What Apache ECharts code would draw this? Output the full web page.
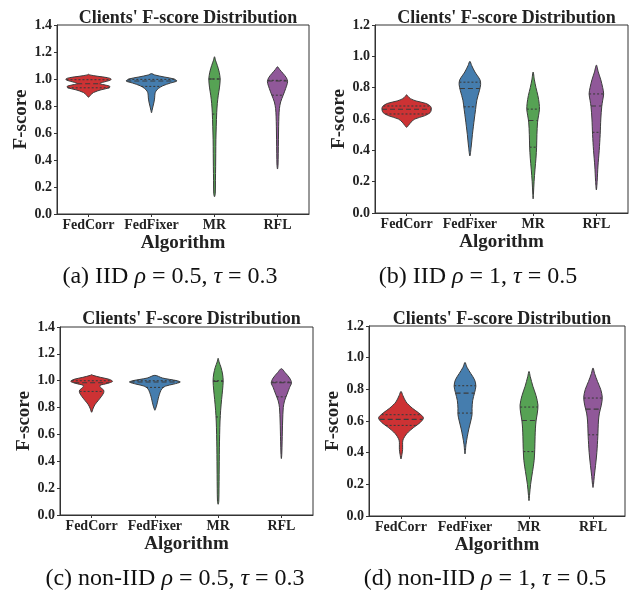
<!DOCTYPE html>
<html>
<head>
<meta charset="utf-8">
<script src="https://cdn.jsdelivr.net/npm/echarts@6/dist/echarts.min.js"></script>
<style>
html,body{margin:0;padding:0;background:#fff;}
#chart{width:636px;height:593px;}
</style>
</head>
<body>
<div id="chart"></div>
<script>
// ---------------- data ----------------
const categories = ['FedCorr', 'FedFixer', 'MR', 'RFL'];
const panelTitle = "Clients' F-score Distribution";
const yMax = [1.4, 1.2, 1.4, 1.2];
const captions = [
  '(a) IID {i|ρ} = 0.5, {i|τ} = 0.3',
  '(b) IID {i|ρ} = 1, {i|τ} = 0.5',
  '(c) non-IID {i|ρ} = 0.5, {i|τ} = 0.3',
  '(d) non-IID {i|ρ} = 1, {i|τ} = 0.5'
];
const colors = ['#cd3234', '#457dae', '#56a254', '#905899'];

// Violin outlines: [F-score, half-width as fraction of the category band]
// (a) IID rho=0.5, tau=0.3
const a_FedCorr = [[0.865,0],[0.88,0.03],[0.90,0.08],[0.92,0.20],[0.935,0.33],[0.945,0.34],[0.955,0.27],[0.965,0.18],[0.975,0.22],[0.99,0.34],[1.0,0.36],[1.01,0.30],[1.02,0.15],[1.03,0.02],[1.035,0]];
const a_FedFixer = [[0.75,0],[0.77,0.01],[0.80,0.025],[0.83,0.04],[0.86,0.05],[0.89,0.055],[0.91,0.07],[0.93,0.11],[0.95,0.18],[0.97,0.30],[0.985,0.40],[1.0,0.36],[1.015,0.20],[1.03,0.05],[1.04,0]];
const a_MR = [[0.128,0],[0.15,0.012],[0.25,0.015],[0.35,0.018],[0.45,0.02],[0.55,0.022],[0.65,0.028],[0.75,0.035],[0.82,0.045],[0.88,0.06],[0.94,0.08],[1.0,0.09],[1.05,0.075],[1.10,0.045],[1.14,0.015],[1.165,0]];
const a_RFL = [[0.333,0],[0.36,0.008],[0.45,0.012],[0.55,0.015],[0.65,0.018],[0.72,0.022],[0.78,0.03],[0.83,0.05],[0.88,0.09],[0.93,0.13],[0.98,0.16],[1.01,0.14],[1.04,0.09],[1.07,0.035],[1.09,0]];
// (b) IID rho=1, tau=0.5
const b_FedCorr = [[0.547,0],[0.56,0.03],[0.58,0.07],[0.60,0.13],[0.62,0.28],[0.64,0.37],[0.66,0.39],[0.68,0.38],[0.70,0.30],[0.715,0.15],[0.73,0.06],[0.745,0.02],[0.755,0]];
const b_FedFixer = [[0.364,0],[0.42,0.02],[0.50,0.04],[0.60,0.07],[0.66,0.09],[0.72,0.11],[0.78,0.15],[0.82,0.17],[0.85,0.16],[0.90,0.08],[0.94,0.03],[0.968,0]];
const b_MR = [[0.09,0],[0.12,0.005],[0.20,0.015],[0.28,0.03],[0.35,0.045],[0.42,0.055],[0.50,0.06],[0.58,0.07],[0.62,0.085],[0.66,0.10],[0.70,0.095],[0.75,0.075],[0.80,0.045],[0.85,0.02],[0.90,0]];
const b_RFL = [[0.147,0],[0.20,0.012],[0.30,0.025],[0.40,0.045],[0.50,0.06],[0.60,0.07],[0.68,0.085],[0.72,0.10],[0.76,0.115],[0.80,0.10],[0.85,0.07],[0.90,0.03],[0.944,0]];
// (c) non-IID rho=0.5, tau=0.3
const c_FedCorr = [[0.765,0],[0.79,0.02],[0.82,0.05],[0.85,0.10],[0.88,0.15],[0.91,0.19],[0.93,0.19],[0.95,0.14],[0.965,0.13],[0.98,0.25],[0.995,0.33],[1.01,0.28],[1.025,0.14],[1.04,0.02],[1.045,0]];
const c_FedFixer = [[0.78,0],[0.79,0.01],[0.82,0.03],[0.85,0.045],[0.88,0.06],[0.91,0.08],[0.94,0.11],[0.96,0.17],[0.975,0.30],[0.99,0.40],[1.0,0.35],[1.02,0.12],[1.04,0]];
const c_MR = [[0.08,0],[0.10,0.01],[0.20,0.014],[0.30,0.016],[0.40,0.018],[0.50,0.02],[0.60,0.024],[0.70,0.03],[0.78,0.04],[0.86,0.055],[0.93,0.07],[1.0,0.08],[1.05,0.07],[1.10,0.045],[1.14,0.015],[1.167,0]];
const c_RFL = [[0.42,0],[0.45,0.006],[0.55,0.012],[0.70,0.02],[0.80,0.03],[0.85,0.05],[0.90,0.09],[0.95,0.13],[0.985,0.16],[1.02,0.13],[1.06,0.06],[1.09,0]];
// (d) non-IID rho=1, tau=0.5
const d_FedCorr = [[0.36,0],[0.39,0.015],[0.42,0.025],[0.45,0.025],[0.48,0.03],[0.52,0.09],[0.56,0.20],[0.59,0.30],[0.62,0.35],[0.65,0.28],[0.68,0.18],[0.72,0.08],[0.76,0.03],[0.787,0]];
const d_FedFixer = [[0.392,0],[0.45,0.015],[0.50,0.035],[0.55,0.06],[0.60,0.09],[0.64,0.11],[0.68,0.11],[0.73,0.12],[0.78,0.15],[0.82,0.17],[0.86,0.15],[0.90,0.09],[0.94,0.03],[0.97,0]];
const d_MR = [[0.097,0],[0.13,0.008],[0.20,0.025],[0.28,0.055],[0.35,0.08],[0.42,0.09],[0.50,0.095],[0.55,0.10],[0.60,0.11],[0.65,0.13],[0.70,0.14],[0.76,0.11],[0.82,0.06],[0.88,0.02],[0.913,0]];
const d_RFL = [[0.18,0],[0.20,0.008],[0.25,0.02],[0.32,0.04],[0.40,0.06],[0.50,0.075],[0.60,0.085],[0.65,0.10],[0.70,0.13],[0.75,0.145],[0.80,0.12],[0.85,0.07],[0.90,0.025],[0.935,0]];

// Inner quartile lines: [Q1, median, Q3] per algorithm
const a_quartiles = [[0.935, 0.965, 0.995], [0.945, 0.985, 0.997], [0.74, 1.0, 1.0], [0.88, 0.985, 0.99]];
const b_quartiles = [[0.632, 0.662, 0.683], [0.678, 0.795, 0.835], [0.42, 0.59, 0.663], [0.515, 0.683, 0.76]];
const c_quartiles = [[0.92, 0.985, 1.0], [0.95, 0.99, 1.0], [0.73, 0.995, 1.0], [0.88, 0.985, 0.99]];
const d_quartiles = [[0.572, 0.61, 0.64], [0.65, 0.776, 0.823], [0.407, 0.603, 0.688], [0.513, 0.675, 0.745]];

const profiles = [
  [a_FedCorr, a_FedFixer, a_MR, a_RFL],
  [b_FedCorr, b_FedFixer, b_MR, b_RFL],
  [c_FedCorr, c_FedFixer, c_MR, c_RFL],
  [d_FedCorr, d_FedFixer, d_MR, d_RFL]
];
const quartiles = [a_quartiles, b_quartiles, c_quartiles, d_quartiles];

// ---------------- layout ----------------
const grids = [
  {left: 57, top: 25, width: 252, height: 189},
  {left: 375, top: 25, width: 253, height: 188},
  {left: 60, top: 327, width: 253, height: 188},
  {left: 369, top: 326, width: 256, height: 190}
];
const captionPos = [[165, 260], [473, 260], [170, 562], [480, 562]];
const titleTop = [4, 4, 305, 305];

const FONT = "'Liberation Serif', 'Times New Roman', serif";
const INK = '#222';
const EDGE = '#3c3c3c';

function halfWidthAt(prof, v) {
  if (v <= prof[0][0] || v >= prof[prof.length - 1][0]) return 0;
  for (let k = 1; k < prof.length; k++) {
    if (v <= prof[k][0]) {
      const [v0, w0] = prof[k - 1], [v1, w1] = prof[k];
      return w0 + (w1 - w0) * (v - v0) / (v1 - v0);
    }
  }
  return 0;
}

function makeRender(p) {
  return function (params, api) {
    const i = api.value(0);
    const prof = profiles[p][i];
    const bw = api.size([1, 0])[0];
    const cx = api.coord([i, 0])[0];
    const pts = [];
    for (let k = 0; k < prof.length; k++) {
      pts.push([cx + prof[k][1] * bw, api.coord([i, prof[k][0]])[1]]);
    }
    for (let k = prof.length - 2; k >= 1; k--) {
      pts.push([cx - prof[k][1] * bw, api.coord([i, prof[k][0]])[1]]);
    }
    const children = [{
      type: 'polygon',
      shape: {points: pts, smooth: 0.3},
      style: {fill: colors[i], stroke: EDGE, lineWidth: 1}
    }];
    const q = quartiles[p][i];
    q.forEach((v, j) => {
      const hw = halfWidthAt(prof, v) * bw;
      const y = api.coord([i, v])[1];
      children.push({
        type: 'line',
        shape: {x1: cx - hw, y1: y, x2: cx + hw, y2: y},
        style: {stroke: EDGE, lineWidth: 1.1, lineDash: j === 1 ? [5, 3] : [2, 2]}
      });
    });
    return {type: 'group', children: children};
  };
}

const option = {
  backgroundColor: '#fff',
  animation: false,
  title: [],
  grid: [],
  xAxis: [],
  yAxis: [],
  series: []
};

for (let p = 0; p < 4; p++) {
  const g = grids[p];
  option.grid.push(Object.assign({show: true, borderColor: '#333', borderWidth: 1, containLabel: false}, g));
  option.title.push({
    text: panelTitle,
    left: g.left + g.width / 2,
    top: titleTop[p],
    textAlign: 'center',
    textStyle: {fontFamily: FONT, fontWeight: 'bold', fontSize: 18, color: INK}
  });
  option.title.push({
    text: captions[p],
    left: captionPos[p][0],
    top: captionPos[p][1],
    textAlign: 'center',
    textStyle: {
      fontFamily: FONT, fontWeight: 'normal', fontSize: 24, color: '#111',
      rich: {i: {fontFamily: FONT, fontStyle: 'italic', fontSize: 24, color: '#111'}}
    }
  });
  option.xAxis.push({
    type: 'category',
    gridIndex: p,
    data: categories,
    boundaryGap: true,
    name: 'Algorithm',
    nameLocation: 'middle',
    nameGap: 20,
    nameTextStyle: {fontFamily: FONT, fontWeight: 'bold', fontSize: 19, color: INK},
    axisLine: {show: true, lineStyle: {color: '#333', width: 1}},
    axisTick: {show: true, alignWithLabel: true, length: 3, lineStyle: {color: '#333'}},
    axisLabel: {fontFamily: FONT, fontWeight: 'bold', fontSize: 14, color: INK, margin: 4, interval: 0},
    splitLine: {show: false}
  });
  option.yAxis.push({
    type: 'value',
    gridIndex: p,
    min: 0,
    max: yMax[p],
    interval: 0.2,
    name: 'F-score',
    nameLocation: 'middle',
    nameRotate: 90,
    nameGap: 25,
    nameTextStyle: {fontFamily: FONT, fontWeight: 'bold', fontSize: 19, color: INK},
    axisLine: {show: true, lineStyle: {color: '#333', width: 1}},
    axisTick: {show: true, length: 3, lineStyle: {color: '#333'}},
    axisLabel: {fontFamily: FONT, fontWeight: 'bold', fontSize: 14, color: INK, margin: 5,
      formatter: v => v.toFixed(1)},
    splitLine: {show: false}
  });
  option.series.push({
    type: 'custom',
    xAxisIndex: p,
    yAxisIndex: p,
    clip: true,
    renderItem: makeRender(p),
    data: categories.map((c, i) => [i]),
    encode: {x: 0}
  });
}

const chart = echarts.init(document.getElementById('chart'), null, {renderer: 'canvas'});
chart.setOption(option);
</script>
</body>
</html>
